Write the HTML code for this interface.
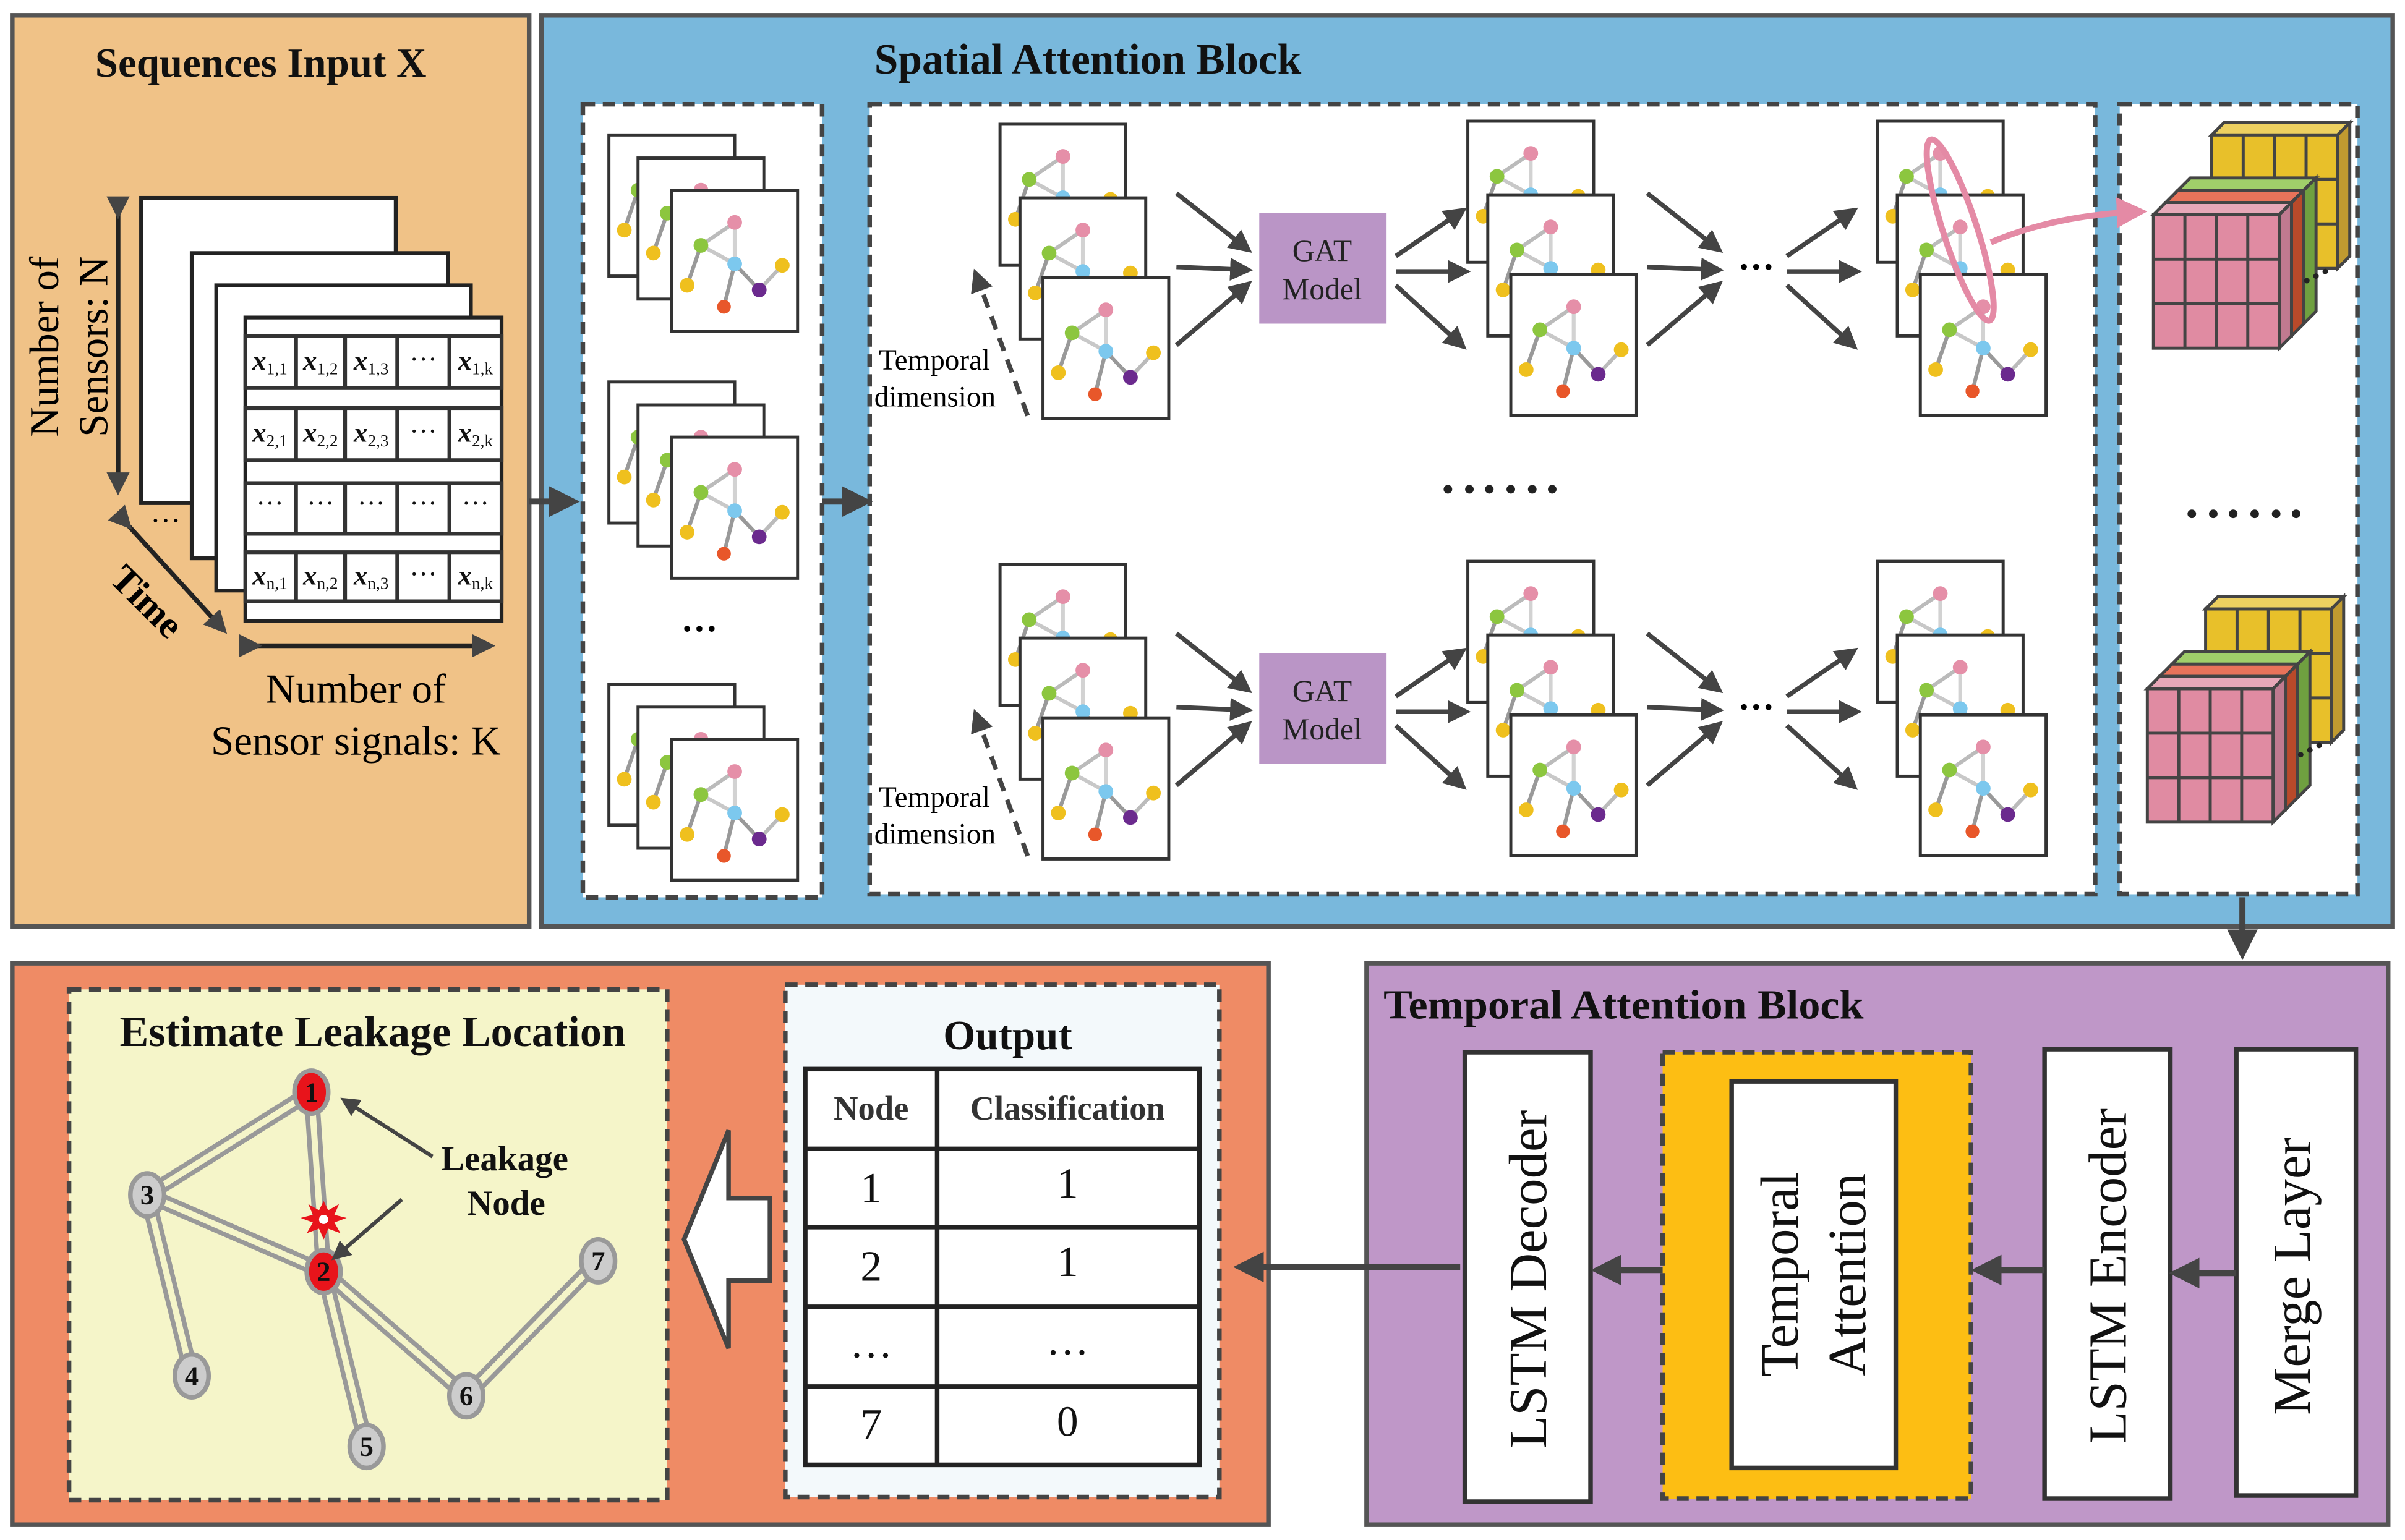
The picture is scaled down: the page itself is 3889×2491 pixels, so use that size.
<!DOCTYPE html>
<html><head><meta charset="utf-8"><style>html,body{margin:0;padding:0;background:#fff}svg{display:block}</style></head>
<body>
<svg xmlns="http://www.w3.org/2000/svg" xmlns:xlink="http://www.w3.org/1999/xlink" width="3889" height="2491" viewBox="0 0 1568 1004" preserveAspectRatio="none" font-family="'Liberation Serif', serif">
<defs>
<marker id="ah" viewBox="0 0 10 10" refX="8" refY="5" markerWidth="5" markerHeight="5" orient="auto"><path d="M0,0 L10,5 L0,10 z" fill="#444"/></marker>
<marker id="ahp" viewBox="0 0 10 10" refX="8" refY="5" markerWidth="5" markerHeight="5" orient="auto"><path d="M0,0 L10,5 L0,10 z" fill="#E48AA5"/></marker>
<g id="card">
<rect x="0" y="0" width="82" height="92" fill="#fff" stroke="#333" stroke-width="2"/>
<g stroke-width="2.5" stroke-linecap="round">
<line x1="19" y1="36" x2="41" y2="21" stroke="#bbb"/>
<line x1="41" y1="21" x2="41" y2="48" stroke="#d2d2d2"/>
<line x1="19" y1="36" x2="41" y2="48" stroke="#c8c8c8"/>
<line x1="19" y1="36" x2="10" y2="62" stroke="#999"/>
<line x1="41" y1="48" x2="34" y2="76" stroke="#999"/>
<line x1="41" y1="48" x2="57" y2="65" stroke="#999"/>
<line x1="57" y1="65" x2="72" y2="49" stroke="#bbb"/>
</g>
<circle cx="41" cy="21" r="4.8" fill="#E58FA8"/>
<circle cx="19" cy="36" r="4.8" fill="#8CC63F"/>
<circle cx="41" cy="48" r="4.8" fill="#7CC8EE"/>
<circle cx="10" cy="62" r="4.8" fill="#EFC01E"/>
<circle cx="34" cy="76" r="4.5" fill="#E8572A"/>
<circle cx="57" cy="65" r="4.8" fill="#6B2A8E"/>
<circle cx="72" cy="49" r="4.8" fill="#EFC01E"/>
</g>
<g id="stackM"><use xlink:href="#card"/><use xlink:href="#card" x="13" y="48"/><use xlink:href="#card" x="28" y="100"/></g>
<g id="stackL"><use xlink:href="#card"/><use xlink:href="#card" x="19" y="15"/><use xlink:href="#card" x="41" y="36"/></g>
<g id="grid" fill="none" stroke="#444" stroke-width="2">
<rect x="0" y="0" width="82" height="87"/>
<line x1="20.5" y1="0" x2="20.5" y2="87"/><line x1="41" y1="0" x2="41" y2="87"/><line x1="61.5" y1="0" x2="61.5" y2="87"/>
<line x1="0" y1="29" x2="82" y2="29"/><line x1="0" y1="58" x2="82" y2="58"/>
</g>
<g id="lyY"><polygon points="0,0 8,-8 90,-8 82,0" fill="#EDD060" stroke="#444" stroke-width="2"/><polygon points="82,0 90,-8 90,79 82,87" fill="#C09A30" stroke="#444" stroke-width="2"/><rect width="82" height="87" fill="#E8C02A"/><use xlink:href="#grid"/></g>
<g id="lyG"><polygon points="0,0 8,-8 90,-8 82,0" fill="#A0CF6A" stroke="#444" stroke-width="2"/><polygon points="82,0 90,-8 90,79 82,87" fill="#6FA040" stroke="#444" stroke-width="2"/><rect width="82" height="87" fill="#8CC050"/><use xlink:href="#grid"/></g>
<g id="lyR"><polygon points="0,0 8,-8 90,-8 82,0" fill="#E8735A" stroke="#444" stroke-width="2"/><polygon points="82,0 90,-8 90,79 82,87" fill="#B84A2A" stroke="#444" stroke-width="2"/><rect width="82" height="87" fill="#D85A40"/><use xlink:href="#grid"/></g>
<g id="lyP"><polygon points="0,0 8,-8 90,-8 82,0" fill="#E8A8B8" stroke="#444" stroke-width="2"/><polygon points="82,0 90,-8 90,79 82,87" fill="#C07A90" stroke="#444" stroke-width="2"/><rect width="82" height="87" fill="#E08BA2"/><use xlink:href="#grid"/></g>
<g id="cube">
<use xlink:href="#lyY" x="38" y="-52"/>
<use xlink:href="#lyG" x="16" y="-16"/>
<use xlink:href="#lyR" x="8" y="-8"/>
<use xlink:href="#lyP"/>
<circle cx="100" cy="43" r="1.8" fill="#222"/><circle cx="106" cy="40" r="1.8" fill="#222"/><circle cx="112" cy="37" r="1.8" fill="#222"/>
</g>
<g id="arrFan">
<line x1="0" y1="0" x2="47" y2="37" stroke="#444" stroke-width="3" marker-end="url(#ah)"/>
<line x1="0" y1="48" x2="47" y2="50" stroke="#444" stroke-width="3" marker-end="url(#ah)"/>
<line x1="0" y1="99" x2="47" y2="59" stroke="#444" stroke-width="3" marker-end="url(#ah)"/>
</g>
<g id="arrOut">
<line x1="0" y1="41" x2="44" y2="11" stroke="#444" stroke-width="3" marker-end="url(#ah)"/>
<line x1="0" y1="51" x2="46" y2="51" stroke="#444" stroke-width="3" marker-end="url(#ah)"/>
<line x1="0" y1="60" x2="44" y2="100" stroke="#444" stroke-width="3" marker-end="url(#ah)"/>
</g>
</defs>

<rect x="8" y="10" width="337" height="594" fill="#F0C287" stroke="#555" stroke-width="3"/>
<text x="170" y="50" font-size="27" font-weight="bold" text-anchor="middle" fill="#111">Sequences Input X</text>
<rect x="92" y="129" width="166" height="199" fill="#fff" stroke="#222" stroke-width="2.5"/>
<rect x="125" y="165" width="167" height="199" fill="#fff" stroke="#222" stroke-width="2.5"/>
<rect x="141" y="186" width="166" height="199" fill="#fff" stroke="#222" stroke-width="2.5"/>
<rect x="160" y="207" width="167" height="198" fill="#fff" stroke="#222" stroke-width="2.5"/>
<g stroke="#333" stroke-width="2.5" fill="#fff">
<rect x="160" y="219" width="167" height="34"/><rect x="160" y="266" width="167" height="34"/><rect x="160" y="315" width="167" height="33"/><rect x="160" y="360" width="167" height="32"/>
<line x1="193" y1="219" x2="193" y2="253"/><line x1="225" y1="219" x2="225" y2="253"/><line x1="259" y1="219" x2="259" y2="253"/><line x1="293" y1="219" x2="293" y2="253"/>
<line x1="193" y1="266" x2="193" y2="300"/><line x1="225" y1="266" x2="225" y2="300"/><line x1="259" y1="266" x2="259" y2="300"/><line x1="293" y1="266" x2="293" y2="300"/>
<line x1="193" y1="315" x2="193" y2="348"/><line x1="225" y1="315" x2="225" y2="348"/><line x1="259" y1="315" x2="259" y2="348"/><line x1="293" y1="315" x2="293" y2="348"/>
<line x1="193" y1="360" x2="193" y2="392"/><line x1="225" y1="360" x2="225" y2="392"/><line x1="259" y1="360" x2="259" y2="392"/><line x1="293" y1="360" x2="293" y2="392"/>
</g>
<g font-size="18" text-anchor="middle" fill="#111">
<text x="176" y="241"><tspan font-weight="bold" font-style="italic">x</tspan><tspan font-size="11" dy="3">1,1</tspan></text>
<text x="209" y="241"><tspan font-weight="bold" font-style="italic">x</tspan><tspan font-size="11" dy="3">1,2</tspan></text>
<text x="242" y="241"><tspan font-weight="bold" font-style="italic">x</tspan><tspan font-size="11" dy="3">1,3</tspan></text>
<text x="276" y="240">···</text>
<text x="310" y="241"><tspan font-weight="bold" font-style="italic">x</tspan><tspan font-size="11" dy="3">1,k</tspan></text>
<text x="176" y="288"><tspan font-weight="bold" font-style="italic">x</tspan><tspan font-size="11" dy="3">2,1</tspan></text>
<text x="209" y="288"><tspan font-weight="bold" font-style="italic">x</tspan><tspan font-size="11" dy="3">2,2</tspan></text>
<text x="242" y="288"><tspan font-weight="bold" font-style="italic">x</tspan><tspan font-size="11" dy="3">2,3</tspan></text>
<text x="276" y="287">···</text>
<text x="310" y="288"><tspan font-weight="bold" font-style="italic">x</tspan><tspan font-size="11" dy="3">2,k</tspan></text>
<text x="176" y="334">···</text><text x="209" y="334">···</text><text x="242" y="334">···</text><text x="276" y="334">···</text><text x="310" y="334">···</text>
<text x="176" y="381"><tspan font-weight="bold" font-style="italic">x</tspan><tspan font-size="11" dy="3">n,1</tspan></text>
<text x="209" y="381"><tspan font-weight="bold" font-style="italic">x</tspan><tspan font-size="11" dy="3">n,2</tspan></text>
<text x="242" y="381"><tspan font-weight="bold" font-style="italic">x</tspan><tspan font-size="11" dy="3">n,3</tspan></text>
<text x="276" y="380">···</text>
<text x="310" y="381"><tspan font-weight="bold" font-style="italic">x</tspan><tspan font-size="11" dy="3">n,k</tspan></text>
</g>
<line x1="77" y1="140" x2="77" y2="320" stroke="#222" stroke-width="3" marker-end="url(#ah)" marker-start="url(#ah)"/>
<line x1="84" y1="343" x2="146" y2="411" stroke="#222" stroke-width="3" marker-end="url(#ah)" marker-start="url(#ah)"/>
<line x1="168" y1="421" x2="320" y2="421" stroke="#222" stroke-width="3" marker-end="url(#ah)" marker-start="url(#ah)"/>
<text x="108" y="346" font-size="20" text-anchor="middle">···</text>
<text transform="translate(90,398) rotate(45)" font-size="25" font-weight="bold" text-anchor="middle">Time</text>
<text transform="translate(38,226) rotate(-90)" font-size="27" text-anchor="middle">Number of</text>
<text transform="translate(70,226) rotate(-90)" font-size="27" text-anchor="middle">Sensors: N</text>
<text x="232" y="458" font-size="27" text-anchor="middle">Number of</text>
<text x="232" y="492" font-size="27" text-anchor="middle">Sensor signals: K</text>

<rect x="353" y="10" width="1207" height="594" fill="#79B8DC" stroke="#555" stroke-width="3"/>
<text x="570" y="48" font-size="28" font-weight="bold" fill="#111">Spatial Attention Block</text>
<rect x="380" y="68" width="156" height="517" fill="#fff" stroke="#444" stroke-width="3" stroke-dasharray="8,5"/>
<rect x="567" y="68" width="799" height="515" fill="#fff" stroke="#444" stroke-width="3" stroke-dasharray="8,5"/>
<rect x="1382" y="68" width="155" height="515" fill="#fff" stroke="#444" stroke-width="3" stroke-dasharray="8,5"/>
<line x1="345" y1="327" x2="374" y2="327" stroke="#444" stroke-width="4" marker-end="url(#ah)"/>
<line x1="536" y1="327" x2="565" y2="327" stroke="#444" stroke-width="4" marker-end="url(#ah)"/>

<use xlink:href="#stackL" x="397" y="88"/>
<use xlink:href="#stackL" x="397" y="249"/>
<use xlink:href="#stackL" x="397" y="446"/>
<text x="456" y="418" font-size="24" font-weight="bold" text-anchor="middle">···</text>

<use xlink:href="#stackM" x="652" y="81"/>
<use xlink:href="#stackM" x="957" y="79"/>
<use xlink:href="#stackM" x="1224" y="79"/>
<use xlink:href="#arrFan" x="767" y="126"/>
<rect x="821" y="139" width="83" height="72" fill="#BA95C6"/>
<text x="862" y="170" font-size="20" text-anchor="middle" fill="#222">GAT</text>
<text x="862" y="195" font-size="20" text-anchor="middle" fill="#222">Model</text>
<use xlink:href="#arrOut" x="910" y="126"/>
<use xlink:href="#arrFan" x="1074" y="126"/>
<text x="1145" y="182" font-size="24" font-weight="bold" text-anchor="middle">···</text>
<use xlink:href="#arrOut" x="1165" y="126"/>
<line x1="670" y1="271" x2="636" y2="178" stroke="#444" stroke-width="3" stroke-dasharray="9,6" marker-end="url(#ah)"/>
<text x="573" y="241" font-size="19">Temporal</text>
<text x="570" y="265" font-size="19">dimension</text>

<use xlink:href="#stackM" x="652" y="368"/>
<use xlink:href="#stackM" x="957" y="366"/>
<use xlink:href="#stackM" x="1224" y="366"/>
<use xlink:href="#arrFan" x="767" y="413"/>
<rect x="821" y="426" width="83" height="72" fill="#BA95C6"/>
<text x="862" y="457" font-size="20" text-anchor="middle" fill="#222">GAT</text>
<text x="862" y="482" font-size="20" text-anchor="middle" fill="#222">Model</text>
<use xlink:href="#arrOut" x="910" y="413"/>
<use xlink:href="#arrFan" x="1074" y="413"/>
<text x="1145" y="469" font-size="24" font-weight="bold" text-anchor="middle">···</text>
<use xlink:href="#arrOut" x="1165" y="413"/>
<line x1="670" y1="558" x2="636" y2="465" stroke="#444" stroke-width="3" stroke-dasharray="9,6" marker-end="url(#ah)"/>
<text x="573" y="526" font-size="19">Temporal</text>
<text x="570" y="550" font-size="19">dimension</text>

<g fill="#222">
<circle cx="944" cy="319" r="2.8"/><circle cx="958" cy="319" r="2.8"/><circle cx="971" cy="319" r="2.8"/><circle cx="985" cy="319" r="2.8"/><circle cx="999" cy="319" r="2.8"/><circle cx="1012" cy="319" r="2.8"/>
<circle cx="1429" cy="335" r="2.8"/><circle cx="1443" cy="335" r="2.8"/><circle cx="1456" cy="335" r="2.8"/><circle cx="1470" cy="335" r="2.8"/><circle cx="1484" cy="335" r="2.8"/><circle cx="1497" cy="335" r="2.8"/>
</g>

<ellipse cx="1278" cy="150" rx="11" ry="62" transform="rotate(-18 1278 150)" fill="none" stroke="#E48AA5" stroke-width="4"/>
<path d="M1298,158 Q1340,140 1396,138" fill="none" stroke="#E48AA5" stroke-width="4" marker-end="url(#ahp)"/>

<use xlink:href="#cube" x="1404" y="140"/>
<use xlink:href="#cube" x="1400" y="449"/>

<line x1="1462" y1="585" x2="1462" y2="622" stroke="#444" stroke-width="4" marker-end="url(#ah)"/>

<rect x="8" y="628" width="819" height="366" fill="#EF8B65" stroke="#555" stroke-width="3"/>
<rect x="45" y="645" width="390" height="333" fill="#F5F5C9" stroke="#444" stroke-width="3" stroke-dasharray="8,5"/>
<text x="243" y="682" font-size="28" font-weight="bold" text-anchor="middle" fill="#111" textLength="330" lengthAdjust="spacingAndGlyphs">Estimate Leakage Location</text>
<g stroke-linecap="round">
<g stroke="#999" stroke-width="10">
<line x1="203" y1="712" x2="96" y2="779"/><line x1="203" y1="712" x2="211" y2="829"/><line x1="96" y1="779" x2="211" y2="829"/>
<line x1="96" y1="779" x2="125" y2="897"/><line x1="211" y1="829" x2="239" y2="943"/><line x1="211" y1="829" x2="304" y2="910"/><line x1="304" y1="910" x2="390" y2="822"/>
</g>
<g stroke="#F5F5C9" stroke-width="4">
<line x1="203" y1="712" x2="96" y2="779"/><line x1="203" y1="712" x2="211" y2="829"/><line x1="96" y1="779" x2="211" y2="829"/>
<line x1="96" y1="779" x2="125" y2="897"/><line x1="211" y1="829" x2="239" y2="943"/><line x1="211" y1="829" x2="304" y2="910"/><line x1="304" y1="910" x2="390" y2="822"/>
</g>
</g>
<g stroke="#999" stroke-width="3">
<ellipse cx="203" cy="712" rx="11" ry="14" fill="#E8141B"/>
<ellipse cx="211" cy="829" rx="11" ry="14" fill="#E8141B"/>
<ellipse cx="96" cy="779" rx="11" ry="14" fill="#ccc"/>
<ellipse cx="125" cy="897" rx="11" ry="14" fill="#ccc"/>
<ellipse cx="239" cy="943" rx="11" ry="14" fill="#ccc"/>
<ellipse cx="304" cy="910" rx="11" ry="14" fill="#ccc"/>
<ellipse cx="390" cy="822" rx="11" ry="14" fill="#ccc"/>
</g>
<g font-size="18" font-weight="bold" text-anchor="middle" fill="#111">
<text x="203" y="718">1</text><text x="211" y="835">2</text><text x="96" y="785">3</text><text x="125" y="903">4</text><text x="239" y="949">5</text><text x="304" y="916">6</text><text x="390" y="828">7</text>
</g>
<polygon points="211,783 214,789 221,785 218,792 226,794 218,797 222,804 214,801 211,808 208,801 200,804 204,797 196,794 204,792 201,785 208,789" fill="#E8141B"/>
<circle cx="211" cy="795" r="3" fill="#fff"/>
<line x1="282" y1="754" x2="224" y2="717" stroke="#444" stroke-width="2.5" marker-end="url(#ah)"/>
<line x1="262" y1="782" x2="218" y2="820" stroke="#444" stroke-width="2.5" marker-end="url(#ah)"/>
<text x="329" y="763" font-size="23" font-weight="bold" text-anchor="middle" fill="#111">Leakage</text>
<text x="330" y="792" font-size="23" font-weight="bold" text-anchor="middle" fill="#111">Node</text>

<polygon points="446,808 475,737 475,781 502,781 502,835 475,835 475,879" fill="#fff" stroke="#444" stroke-width="3"/>

<rect x="512" y="642" width="283" height="334" fill="#F3F9FB" stroke="#444" stroke-width="3" stroke-dasharray="8,5"/>
<text x="657" y="684" font-size="27" font-weight="bold" text-anchor="middle" fill="#111">Output</text>
<rect x="525" y="697" width="257" height="258" fill="#fff" stroke="#222" stroke-width="3"/>
<g stroke="#222" stroke-width="3">
<line x1="611" y1="697" x2="611" y2="955"/>
<line x1="525" y1="749" x2="782" y2="749"/><line x1="525" y1="800" x2="782" y2="800"/><line x1="525" y1="852" x2="782" y2="852"/><line x1="525" y1="904" x2="782" y2="904"/>
</g>
<text x="568" y="730" font-size="22" font-weight="bold" text-anchor="middle" fill="#333">Node</text>
<text x="696" y="730" font-size="22" font-weight="bold" text-anchor="middle" fill="#333">Classification</text>
<g font-size="28" text-anchor="middle" fill="#111">
<text x="568" y="784">1</text><text x="696" y="781">1</text>
<text x="568" y="835">2</text><text x="696" y="832">1</text>
<text x="568" y="885">…</text><text x="696" y="883">…</text>
<text x="568" y="938">7</text><text x="696" y="936">0</text>
</g>

<rect x="891" y="628" width="666" height="366" fill="#BF97C8" stroke="#555" stroke-width="3"/>
<text x="902" y="664" font-size="27" font-weight="bold" fill="#111" textLength="313" lengthAdjust="spacingAndGlyphs">Temporal Attention Block</text>
<rect x="955" y="686" width="82" height="293" fill="#fff" stroke="#333" stroke-width="3"/>
<rect x="1084" y="686" width="201" height="291" fill="#FDBE13" stroke="#444" stroke-width="3" stroke-dasharray="8,5"/>
<rect x="1129" y="705" width="107" height="252" fill="#fff" stroke="#333" stroke-width="3"/>
<rect x="1333" y="684" width="82" height="293" fill="#fff" stroke="#333" stroke-width="3"/>
<rect x="1458" y="684" width="78" height="291" fill="#fff" stroke="#333" stroke-width="3"/>
<g font-size="35" text-anchor="middle" fill="#111">
<text transform="translate(1008,834) rotate(-90)">LSTM Decoder</text>
<text transform="translate(1172,831) rotate(-90)">Temporal</text>
<text transform="translate(1216,831) rotate(-90)">Attention</text>
<text transform="translate(1386,832) rotate(-90)">LSTM Encoder</text>
<text transform="translate(1506,832) rotate(-90)">Merge Layer</text>
</g>
<g stroke="#444" stroke-width="4">
<line x1="1458" y1="830" x2="1418" y2="830" marker-end="url(#ah)"/>
<line x1="1333" y1="828" x2="1289" y2="828" marker-end="url(#ah)"/>
<line x1="1084" y1="828" x2="1041" y2="828" marker-end="url(#ah)"/>
<line x1="952" y1="826" x2="808" y2="826" marker-end="url(#ah)"/>
</g>
</svg>
</body></html>
